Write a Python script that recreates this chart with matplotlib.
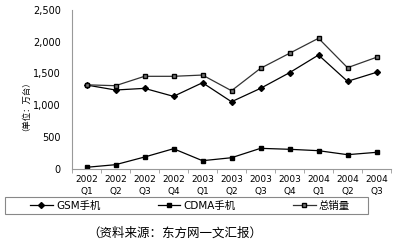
import matplotlib
matplotlib.use('Agg')
import matplotlib.pyplot as plt
import numpy as np
from matplotlib.patches import Rectangle

plt.rcParams['font.family'] = ['DejaVu Sans', 'Noto Sans CJK SC']

# quarterly sales, 10k units
quarters = ['2002\nQ1', '2002\nQ2', '2002\nQ3', '2002\nQ4',
            '2003\nQ1', '2003\nQ2', '2003\nQ3', '2003\nQ4',
            '2004\nQ1', '2004\nQ2', '2004\nQ3']
gsm = [1317, 1238, 1264, 1138, 1353, 1053, 1264, 1511, 1790, 1375, 1517]
cdma = [19, 60, 181, 312, 123, 170, 318, 303, 281, 218, 255]
total = [1320, 1306, 1454, 1454, 1474, 1227, 1580, 1817, 2054, 1590, 1754]
y_ticks = [0, 500, 1000, 1500, 2000, 2500]

fig = plt.figure(figsize=(4, 2.47), dpi=100)
ax = fig.add_axes([72/400, 1 - 168.5/247, 319/400, 158.5/247])

x = np.arange(len(quarters))
ax.plot(x, gsm, color='black', lw=0.9, marker='D', markersize=3, label='GSM手机')
ax.plot(x, cdma, color='black', lw=0.9, marker='s', markersize=3.5, label='CDMA手机')
ax.plot(x, total, color='#333333', lw=0.9, marker='s', markersize=3.5,
        markerfacecolor='#777777', markeredgecolor='black', label='总销量')

ax.set_xlim(-0.5, len(quarters) - 0.5)
ax.set_ylim(0, 2500)
ax.set_yticks(y_ticks)
ax.set_yticklabels([f'{v:,}' for v in y_ticks], fontsize=7)
ax.tick_params(axis='y', length=0, pad=8)

ax.set_xticks(x)
ax.set_xticklabels(quarters, fontsize=6.5, linespacing=1.3)
ax.set_xticks(np.arange(-0.5, len(quarters)), minor=True)
ax.tick_params(axis='x', which='major', length=0, pad=5)
ax.tick_params(axis='x', which='minor', length=3, color='#999999', width=0.6)

for s in ['top', 'right']:
    ax.spines[s].set_visible(False)
for s in ['left', 'bottom']:
    ax.spines[s].set_color('#999999')
    ax.spines[s].set_linewidth(0.8)

fig.text(22/400, 1 - 102/247, '（单位：万台）', rotation=90, fontsize=6,
         family=['Noto Sans CJK SC'], ha='center', va='center')

# legend box
fig.patches.append(Rectangle((5/400, 1 - 214/247), 363/400, 17/247,
                             transform=fig.transFigure, fill=False,
                             edgecolor='#888888', lw=0.8))
handles, labels = ax.get_legend_handles_labels()
fig.legend(handles, labels, loc='center', bbox_to_anchor=(190/400, 1 - 205.5/247),
           ncol=3, frameon=False, fontsize=7.5, handlelength=2.2,
           handletextpad=0.3, columnspacing=5.5)

fig.text(175/400, 1 - 233/247, '（资料来源：东方网一文汇报）', fontsize=9,
         family=['Noto Sans CJK SC'], ha='center', va='center')

fig.savefig('out.png', dpi=100)
